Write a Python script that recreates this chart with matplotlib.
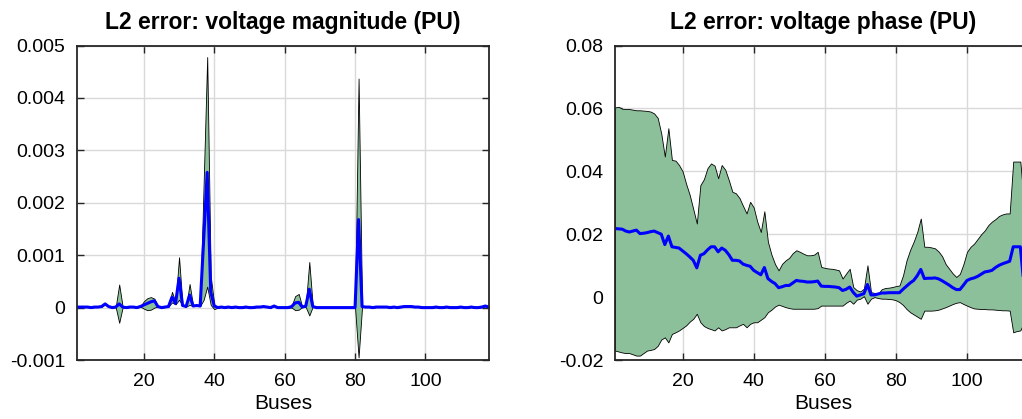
import numpy as np
import matplotlib
matplotlib.use("Agg")
import matplotlib.pyplot as plt

plt.rcParams["font.family"] = ["Liberation Sans", "DejaVu Sans"]

buses = np.arange(1, 119)

# voltage magnitude L2 error, values in units of 1e-3 PU
mag_mean = [
    0.01, 0.01, 0.01, 0.01, 0.0, 0.01, 0.01, 0.02, 0.07, 0.02,
    0.0, 0.01, 0.07, 0.01, 0.0, 0.01, 0.01, 0.0, 0.02, 0.05,
    0.08, 0.11, 0.13, 0.02, 0.0, 0.01, 0.02, 0.2, 0.08, 0.56,
    0.04, 0.02, 0.24, 0.03, 0.04, 0.03, 1.3, 2.58, 0.3, 0.03,
    0.0, 0.01, 0.0, 0.01, 0.0, 0.01, 0.0, 0.0, 0.01, 0.0,
    0.0, 0.01, 0.01, 0.02, 0.01, 0.0, 0.03, 0.0, 0.0, 0.0,
    0.0, 0.02, 0.09, 0.1, 0.01, 0.03, 0.35, 0.02, 0.0, 0.0,
    0.0, 0.0, 0.0, 0.0, 0.0, 0.0, 0.0, 0.0, 0.0, 0.0,
    1.68, 0.02, 0.01, 0.01, 0.0, 0.01, 0.01, 0.01, 0.01, 0.0,
    0.01, 0.0, 0.01, 0.02, 0.02, 0.02, 0.01, 0.01, 0.0, 0.0,
    0.0, 0.0, 0.01, 0.0, 0.0, 0.01, 0.0, 0.0, 0.0, 0.01,
    0.0, 0.0, 0.01, 0.0, 0.0, 0.01, 0.03, 0.01,
]
mag_upper = [
    0.01, 0.01, 0.01, 0.01, 0.0, 0.01, 0.01, 0.02, 0.08, 0.02,
    0.0, 0.01, 0.44, 0.01, 0.0, 0.01, 0.01, 0.0, 0.02, 0.12,
    0.18, 0.2, 0.17, 0.02, 0.0, 0.01, 0.02, 0.3, 0.1, 0.96,
    0.04, 0.02, 0.45, 0.03, 0.04, 0.03, 2.4, 4.78, 0.6, 0.06,
    0.0, 0.01, 0.0, 0.01, 0.0, 0.01, 0.0, 0.0, 0.01, 0.0,
    0.0, 0.01, 0.01, 0.02, 0.01, 0.0, 0.03, 0.0, 0.0, 0.0,
    0.0, 0.04, 0.22, 0.26, 0.01, 0.05, 0.87, 0.02, 0.0, 0.0,
    0.0, 0.0, 0.0, 0.0, 0.0, 0.0, 0.0, 0.0, 0.0, 0.0,
    4.37, 0.02, 0.01, 0.01, 0.0, 0.01, 0.01, 0.01, 0.01, 0.0,
    0.01, 0.0, 0.01, 0.02, 0.02, 0.02, 0.01, 0.01, 0.0, 0.0,
    0.0, 0.0, 0.01, 0.0, 0.0, 0.01, 0.0, 0.0, 0.0, 0.01,
    0.0, 0.0, 0.01, 0.0, 0.0, 0.01, 0.03, 0.01,
]
mag_lower = [
    0.01, 0.01, 0.01, 0.01, 0.0, 0.01, 0.01, 0.02, 0.06, 0.02,
    0.0, 0.01, -0.29, 0.01, 0.0, 0.01, 0.01, 0.0, 0.02, -0.02,
    -0.05, -0.04, 0.0, 0.02, 0.0, 0.01, 0.02, 0.1, 0.06, 0.15,
    0.04, 0.02, 0.05, 0.03, 0.04, 0.03, 0.15, 0.4, 0.05, -0.03,
    0.0, 0.01, 0.0, 0.01, 0.0, 0.01, 0.0, 0.0, 0.01, 0.0,
    0.0, 0.01, 0.01, 0.02, 0.01, 0.0, 0.03, 0.0, 0.0, 0.0,
    0.0, 0.0, -0.05, -0.04, 0.01, 0.01, -0.15, 0.02, 0.0, 0.0,
    0.0, 0.0, 0.0, 0.0, 0.0, 0.0, 0.0, 0.0, 0.0, 0.0,
    -0.95, 0.02, 0.01, 0.01, 0.0, 0.01, 0.01, 0.01, 0.01, 0.0,
    0.01, 0.0, 0.01, 0.02, 0.02, 0.02, 0.01, 0.01, 0.0, 0.0,
    0.0, 0.0, 0.01, 0.0, 0.0, 0.01, 0.0, 0.0, 0.0, 0.01,
    0.0, 0.0, 0.01, 0.0, 0.0, 0.01, 0.03, 0.01,
]

# voltage phase L2 error (PU)
ph_mean = [
    0.0218, 0.0217, 0.0216, 0.021, 0.0207, 0.021, 0.0213, 0.0202, 0.0203, 0.0205,
    0.0208, 0.021, 0.0205, 0.02, 0.0167, 0.0194, 0.016, 0.0158, 0.0156, 0.0147,
    0.0138, 0.0128, 0.0117, 0.0093, 0.0133, 0.0138, 0.015, 0.016, 0.016, 0.0144,
    0.0156, 0.0149, 0.0135, 0.0117, 0.0117, 0.0115, 0.0105, 0.0101, 0.0098, 0.0085,
    0.0078, 0.0071, 0.0094, 0.0059, 0.005, 0.0043, 0.003, 0.0033, 0.0037, 0.0037,
    0.0045, 0.0053, 0.0051, 0.005, 0.0048, 0.0048, 0.0049, 0.0051, 0.0035, 0.0034,
    0.0034, 0.0033, 0.0032, 0.003, 0.0021, 0.0025, 0.0032, 0.0015, 0.0003, 0.0007,
    0.0011, 0.004, 0.0007, 0.0007, 0.001, 0.0013, 0.0013, 0.0014, 0.0014, 0.0014,
    0.0014, 0.0025, 0.0035, 0.0045, 0.0053, 0.0068, 0.0088, 0.0059, 0.006, 0.006,
    0.0061, 0.0058, 0.0052, 0.0045, 0.0038, 0.003, 0.0024, 0.0024, 0.0038, 0.0053,
    0.0058, 0.0061, 0.0066, 0.0073, 0.008, 0.0082, 0.0085, 0.0094, 0.0101, 0.0106,
    0.011, 0.0114, 0.016, 0.016, 0.016, 0.004, 0.006, 0.007,
]
ph_upper = [
    0.0603, 0.0605, 0.0599, 0.0598, 0.0598, 0.0596, 0.0594, 0.0594, 0.0593, 0.0592,
    0.059, 0.0584, 0.057, 0.052, 0.0447, 0.0537, 0.0436, 0.0434, 0.042, 0.04,
    0.036, 0.0325, 0.028, 0.0234, 0.0356, 0.0375, 0.041, 0.0425, 0.0418, 0.0378,
    0.042, 0.0405, 0.0372, 0.0335, 0.033, 0.0315, 0.029, 0.0266, 0.0303, 0.0285,
    0.024, 0.0207, 0.0273, 0.0176, 0.0135, 0.0105, 0.0085, 0.0106, 0.0117, 0.0125,
    0.014, 0.0149, 0.0144, 0.0138, 0.0133, 0.0133, 0.0135, 0.0144, 0.0096, 0.0093,
    0.0091, 0.009, 0.0088, 0.0085, 0.0059, 0.0075, 0.009, 0.0032, 0.0022, 0.0018,
    0.0027, 0.0101, 0.0016, 0.0013, 0.0011, 0.0025, 0.0029, 0.003, 0.0032, 0.0035,
    0.0037, 0.0069, 0.0117, 0.015, 0.0176, 0.0207, 0.025, 0.016, 0.016, 0.0158,
    0.0155, 0.0145, 0.013, 0.0105, 0.009, 0.0075, 0.0064, 0.0074, 0.0105, 0.0144,
    0.016, 0.017, 0.0185, 0.02, 0.0212, 0.0229, 0.024, 0.0248, 0.0258, 0.0263,
    0.0266, 0.0266, 0.0431, 0.0431, 0.0431, 0.03, 0.028, 0.027,
]
ph_lower = [
    -0.017, -0.0173, -0.0176, -0.0178, -0.0178, -0.0182, -0.0186, -0.0186, -0.0178, -0.017,
    -0.0168, -0.0165, -0.0155, -0.0135, -0.0128, -0.0144, -0.0117, -0.0112, -0.0106, -0.0098,
    -0.009, -0.0078, -0.0069, -0.0053, -0.008, -0.0092, -0.0098, -0.0102, -0.0106, -0.0096,
    -0.0106, -0.0102, -0.0096, -0.0096, -0.0096, -0.009, -0.0085, -0.0096, -0.0085, -0.008,
    -0.008, -0.0072, -0.0064, -0.0048, -0.004, -0.003, -0.0024, -0.0028, -0.0032, -0.0035,
    -0.0037, -0.0037, -0.0037, -0.0037, -0.0037, -0.0037, -0.0037, -0.0035, -0.0027, -0.0027,
    -0.0027, -0.0027, -0.0027, -0.0027, -0.0027, -0.0018, -0.0011, -0.0021, -0.0008, -0.0005,
    0.0003, -0.0021, -0.0005, 0.0, -0.0003, -0.0005, -0.0005, -0.0006, -0.0007, -0.001,
    -0.0016, -0.0025, -0.0038, -0.0048, -0.0055, -0.0062, -0.0069, -0.0043, -0.0043, -0.0043,
    -0.0042, -0.004, -0.0036, -0.0032, -0.0027, -0.0022, -0.0018, -0.0016, -0.0022, -0.0027,
    -0.0032, -0.0036, -0.0037, -0.0038, -0.0038, -0.0039, -0.0039, -0.004, -0.0041, -0.0042,
    -0.0042, -0.0043, -0.0112, -0.0108, -0.0106, -0.008, -0.008, -0.008,
]

mag_yticks = [-0.001, 0, 0.001, 0.002, 0.003, 0.004, 0.005]
mag_ylabels = ["-0.001", "0", "0.001", "0.002", "0.003", "0.004", "0.005"]
ph_yticks = [-0.02, 0, 0.02, 0.04, 0.06, 0.08]
ph_ylabels = ["-0.02", "0", "0.02", "0.04", "0.06", "0.08"]
xticks = [20, 40, 60, 80, 100]

GREEN = "#8cc09a"
BLUE = "#0000ff"


def style(ax):
    ax.set_xlim(1, 118)
    ax.set_xticks(xticks)
    ax.grid(True, color="#d9d9d9", lw=1.0)
    ax.set_axisbelow(True)
    ax.tick_params(direction="in", top=True, right=True, length=5, width=1.0,
                   labelsize=14, color="#262626")
    ax.tick_params(axis="y", pad=8.5)
    ax.tick_params(axis="x", pad=9)
    for s in ax.spines.values():
        s.set_linewidth(1.3)
        s.set_color("#262626")
    ax.set_xlabel("Buses", fontsize=15, labelpad=3)


fig = plt.figure(figsize=(10.22, 4.19), dpi=100)
ax1 = fig.add_axes([0.0753, 0.1408, 0.4030, 0.7506])
ax2 = fig.add_axes([0.6018, 0.1408, 0.4070, 0.7506])

m = np.array(mag_mean) * 1e-3
ax1.fill_between(buses, np.array(mag_lower) * 1e-3, np.array(mag_upper) * 1e-3,
                 facecolor=GREEN, edgecolor="black", lw=0.6)
ax1.plot(buses, m, color=BLUE, lw=2.2)
ax1.set_ylim(-0.001, 0.005)
ax1.set_yticks(mag_yticks, mag_ylabels)
style(ax1)
ax1.set_title("L2 error: voltage magnitude (PU)", fontsize=16.5, fontweight="bold", pad=12)

ax2.fill_between(buses, ph_lower, ph_upper, facecolor=GREEN, edgecolor="black", lw=0.6)
ax2.plot(buses, ph_mean, color=BLUE, lw=2.2)
ax2.set_ylim(-0.02, 0.08)
ax2.set_yticks(ph_yticks, ph_ylabels)
style(ax2)
ax2.set_title("L2 error: voltage phase (PU)", fontsize=16.5, fontweight="bold", pad=12)

fig.savefig("out.png", dpi=100)
